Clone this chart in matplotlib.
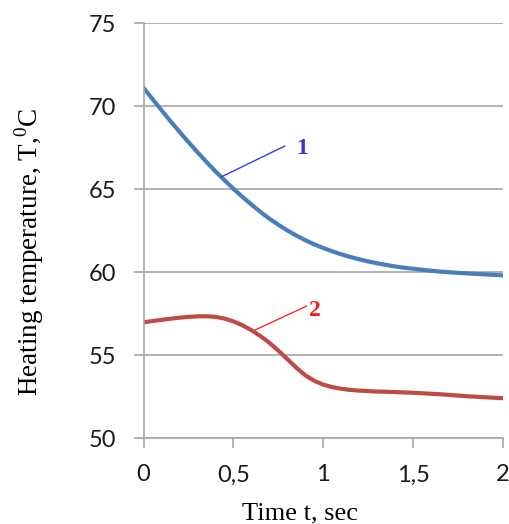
import numpy as np
import matplotlib
matplotlib.use('Agg')
import matplotlib.pyplot as plt

# time, sec
t = [0.0, 0.05, 0.1, 0.15, 0.2, 0.25, 0.3, 0.35, 0.4, 0.45, 0.5,
     0.55, 0.6, 0.65, 0.7, 0.75, 0.8, 0.85, 0.9, 0.95, 1.0,
     1.05, 1.1, 1.15, 1.2, 1.25, 1.3, 1.35, 1.4, 1.45, 1.5,
     1.55, 1.6, 1.65, 1.7, 1.75, 1.8, 1.85, 1.9, 1.95, 2.0]
# curve 1
temp1 = [71.1, 70.42, 69.75, 69.09, 68.45, 67.83, 67.22, 66.64, 66.07, 65.54, 65.02,
         64.53, 64.07, 63.63, 63.22, 62.85, 62.51, 62.2, 61.92, 61.67, 61.45,
         61.25, 61.07, 60.91, 60.77, 60.64, 60.53, 60.43, 60.34, 60.26, 60.2,
         60.14, 60.08, 60.03, 59.99, 59.95, 59.92, 59.89, 59.86, 59.83, 59.8]
# curve 2
temp2 = [56.97, 57.05, 57.12, 57.19, 57.25, 57.3, 57.33, 57.34, 57.3, 57.2, 57.03,
         56.8, 56.5, 56.15, 55.74, 55.27, 54.76, 54.24, 53.78, 53.45, 53.22,
         53.07, 52.97, 52.9, 52.86, 52.83, 52.8, 52.79, 52.77, 52.75, 52.73,
         52.7, 52.67, 52.64, 52.6, 52.56, 52.52, 52.49, 52.46, 52.43, 52.4]

xticks = [0, 0.5, 1, 1.5, 2]
xtick_labels = ['0', '0,5', '1', '1,5', '2']
yticks = [50, 55, 60, 65, 70, 75]

plt.rcParams['mathtext.fontset'] = 'custom'
plt.rcParams['mathtext.rm'] = 'Liberation Serif'

fig = plt.figure(figsize=(5.09, 5.24), dpi=100)
ax = fig.add_axes([0.282, 0.164, 0.706, 0.792])

grid_col = '#a6a6a6'
ax.plot(t, temp1, color='#4a7ebb', lw=3.0, solid_joinstyle='round')
ax.plot(t, temp2, color='#be4b48', lw=3.0, solid_joinstyle='round')

ax.set_xlim(0, 2)
ax.set_ylim(50, 75)
ax.set_xticks(xticks)
ax.set_xticklabels(xtick_labels)
ax.set_yticks(yticks)
ax.yaxis.grid(True, color=grid_col, lw=1.2)
ax.set_axisbelow(True)
for s in ['top', 'right']:
    ax.spines[s].set_visible(False)
for s in ['left', 'bottom']:
    ax.spines[s].set_color(grid_col)
    ax.spines[s].set_linewidth(1.2)
ax.tick_params(axis='both', direction='out', color=grid_col, width=1.2,
               labelsize=17, labelcolor='#1a1a1a')
ax.tick_params(axis='x', length=7, pad=12)
ax.tick_params(axis='y', length=7, pad=13)
for lab in ax.get_xticklabels() + ax.get_yticklabels():
    lab.set_family(['Lato', 'DejaVu Sans'])

# curve labels with pointer lines
ax.plot([0.434, 0.786], [65.74, 67.59], color='#3a3ae0', lw=1.0)
ax.text(0.881, 67.47, '1', color='#3838c8', fontsize=17, fontweight='bold',
        family='Liberation Serif', ha='center', va='center')
ax.plot([0.619, 0.907], [56.5, 57.95], color='#ff2a2a', lw=1.0)
ax.text(0.953, 57.71, '2', color='#ff1a1a', fontsize=17, fontweight='bold',
        family='Liberation Serif', ha='center', va='center')

fig.text(0.057, 0.519, 'Heating temperature, T,$^{0}$C', rotation=90,
         family='Liberation Serif', fontsize=19.5, ha='center', va='center')
fig.text(0.589, 0.008, 'Time t, sec', family='Liberation Serif', fontsize=19,
         ha='center', va='baseline')

fig.savefig('out.png', dpi=100)
